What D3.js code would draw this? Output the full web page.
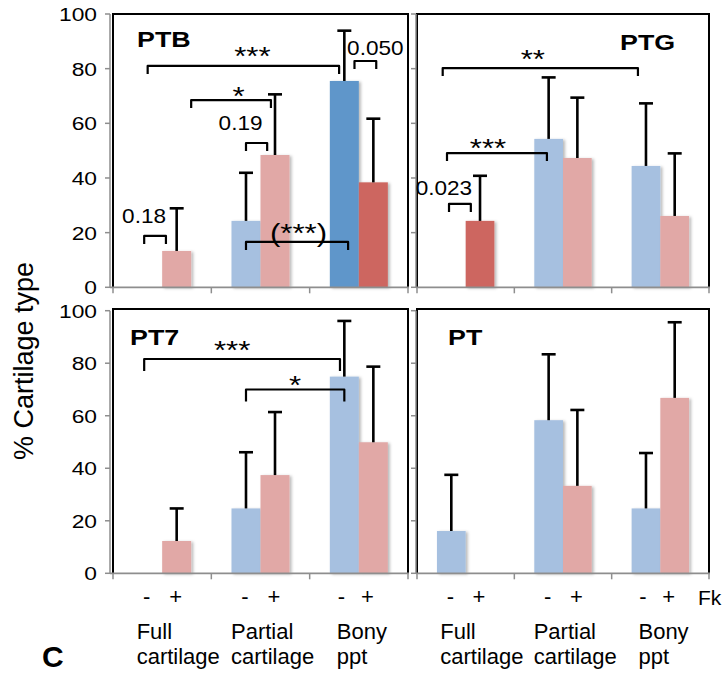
<!DOCTYPE html>
<html>
<head>
<meta charset="utf-8">
<script src="https://cdn.jsdelivr.net/npm/d3@7"></script>
<style>
  body { margin: 0; background: #fff; }
  svg { display: block; }
  text { font-family: "Liberation Sans", Arial, sans-serif; fill: #000; }
</style>
</head>
<body>
<svg id="chart" width="726" height="675"></svg>
<script>

// data

var categories = ["Full cartilage", "Partial cartilage", "Bony ppt"];
var categoryLines = [["Full", "cartilage"], ["Partial", "cartilage"], ["Bony", "ppt"]];
var fk = ["-", "+"];
var panelNames = ["PTB", "PTG", "PT7", "PT"];
var yTicks = [0, 20, 40, 60, 80, 100];

// mean % per category, [Fk -, Fk +]
var ptbMean = [[0, 13.3], [24.3, 48.4], [75.5, 38.4]];
var ptbSd   = [[0, 15.6], [17.6, 22.2], [18.4, 23.3]];
var ptgMean = [[0, 24.3], [54.3, 47.3], [44.4, 26.1]];
var ptgSd   = [[0, 16.5], [22.5, 22.1], [22.9, 22.9]];
var pt7Mean = [[0, 12.3], [24.7, 37.4], [74.9, 49.9]];
var pt7Sd   = [[0, 12.4], [21.4, 24.0], [21.2, 28.8]];
var ptMean  = [[16.1, 0], [58.3, 33.3], [24.7, 66.8]];
var ptSd    = [[21.4, 0], [25.1, 28.9], [21.1, 28.8]];

// bars in the darker shade: panel, category, fk
var darkBars = [["PTB", 2, 0], ["PTB", 2, 1], ["PTG", 0, 1]];

// significance brackets: ends are [category, fk, shift in bar widths], y in %
var brackets = [
  {panel: "PTB", from: [0, 0, 0],     to: [2, 0, -0.18], y: 81.0, label: "***"},
  {panel: "PTB", from: [0, 1, 0.5],   to: [1, 1, -0.14], y: 68.5, label: "*"},
  {panel: "PTB", from: [1, 0, 0],     to: [1, 1, -0.27], y: 52.8, label: "0.19"},
  {panel: "PTB", from: [0, 0, -0.12], to: [0, 1, -0.37], y: 18.8, label: "0.18"},
  {panel: "PTB", from: [1, 0, 0],     to: [2, 0, 0.13],  y: 16.6, label: "(***)"},
  {panel: "PTB", from: [2, 0, 0.35],  to: [2, 1, 0.1],   y: 82.8, label: "0.050"},
  {panel: "PTG", from: [0, 0, -0.3],  to: [2, 0, -0.28], y: 80.2, label: "**"},
  {panel: "PTG", from: [0, 0, -0.15], to: [1, 0, -0.06], y: 49.1, label: "***"},
  {panel: "PTG", from: [0, 0, -0.08], to: [0, 1, -0.32], y: 30.5, label: "0.023"},
  {panel: "PT7", from: [0, 0, -0.12], to: [2, 0, -0.15], y: 81.6, label: "***"},
  {panel: "PT7", from: [1, 0, 0],     to: [2, 0, 0],     y: 70.0, label: "*"}
];

// layout

// label offset from bracket centre / line (px)
var bracketLabelOffset = [
  [9, -1], [7.5, 5], [-16, -13], [-11, -13], [1.5, 0], [10, -6],
  [-7.5, 0], [-9, 4], [-16, -9],
  [-10, 0], [0, 5]
];
var colRange = [[113, 408], [417, 709]];
var axisX = [110, 416];
var rowRange = [[287.3, 14], [573.3, 310.7]];
var frameTop = [14, 309];
var titlePos = [[137, 47], [620, 50], [130, 345], [448, 345]];
var catLabelShift = [-11, -15, -7.5];

var lightColor = ["#a6c0e0", "#e1a8a6"];
var darkColor = ["#5f96ca", "#cd6660"];
var gray = "#8e8e8e";

var panels = [
  {name: panelNames[0], mean: ptbMean, sd: ptbSd, col: 0, row: 0},
  {name: panelNames[1], mean: ptgMean, sd: ptgSd, col: 1, row: 0},
  {name: panelNames[2], mean: pt7Mean, sd: pt7Sd, col: 0, row: 1},
  {name: panelNames[3], mean: ptMean,  sd: ptSd,  col: 1, row: 1}
];

var svg = d3.select("#chart");

var defs = svg.append("defs");
defs.append("filter")
    .attr("id", "shadow")
    .attr("x", "-20%").attr("y", "-20%").attr("width", "140%").attr("height", "140%")
  .append("feDropShadow")
    .attr("dx", 2).attr("dy", 1).attr("stdDeviation", 1.5)
    .attr("flood-color", "#000").attr("flood-opacity", 0.28);

// text stretched horizontally like the pasted Excel panels
function stext(g, x, y, str, size, sx, anchor, weight) {
  return g.append("text")
    .attr("transform", "translate(" + x + "," + y + ") scale(" + sx + ",1)")
    .attr("text-anchor", anchor || "start")
    .style("font-size", size + "px")
    .style("font-weight", weight || "normal")
    .text(str);
}

function isDark(name, i, j) {
  return darkBars.some(function(d) { return d[0] == name && d[1] == i && d[2] == j; });
}

panels.forEach(function(p, pi) {
  var g = svg.append("g");

  var x = d3.scaleBand().domain(d3.range(categories.length)).range(colRange[p.col]);
  var xs = d3.scaleBand().domain(d3.range(fk.length))
    .range([0, x.bandwidth()]).paddingInner(0).paddingOuter(0.695);
  var y = d3.scaleLinear().domain([0, 100]).range(rowRange[p.row]);
  var bw = xs.bandwidth();

  function barCenter(i, j) { return x(i) + xs(j) + bw / 2; }
  p.barCenter = barCenter;

  // flatten values
  var bars = [];
  p.mean.forEach(function(row, i) {
    row.forEach(function(v, j) {
      bars.push({cat: i, fk: j, value: v, sd: p.sd[i][j]});
    });
  });

  g.selectAll("rect.bar")
    .data(bars)
    .enter()
    .append("rect")
    .attr("class", "bar")
    .attr("x", function(d) { return x(d.cat) + xs(d.fk); })
    .attr("y", function(d) { return y(d.value); })
    .attr("width", bw)
    .attr("height", function(d) { return y(0) - y(d.value); })
    .attr("filter", function(d) { return d.value > 0 ? "url(#shadow)" : null; })
    .style("fill", function(d) {
      return isDark(p.name, d.cat, d.fk) ? darkColor[d.fk] : lightColor[d.fk];
    });

  // error bars (upper only)
  var err = g.selectAll("g.err")
    .data(bars.filter(function(d) { return d.sd > 0; }))
    .enter()
    .append("g")
    .attr("class", "err")
    .style("stroke", "#000")
    .style("stroke-width", 2.6);

  err.append("line")
    .attr("x1", function(d) { return barCenter(d.cat, d.fk); })
    .attr("x2", function(d) { return barCenter(d.cat, d.fk); })
    .attr("y1", function(d) { return y(d.value); })
    .attr("y2", function(d) { return y(d.value + d.sd); });

  err.append("line")
    .attr("x1", function(d) { return barCenter(d.cat, d.fk) - 7; })
    .attr("x2", function(d) { return barCenter(d.cat, d.fk) + 7; })
    .attr("y1", function(d) { return y(d.value + d.sd); })
    .attr("y2", function(d) { return y(d.value + d.sd); });

  // frame
  var left = colRange[p.col][0], right = colRange[p.col][1];
  g.append("path")
    .attr("d", "M" + left + "," + y(0) + "V" + frameTop[p.row] + "H" + right + "V" + y(0))
    .style("fill", "none")
    .style("stroke", "#000")
    .style("stroke-width", 2);

  // axes
  var ax = axisX[p.col];
  g.append("line")
    .attr("x1", ax).attr("x2", ax)
    .attr("y1", y(0)).attr("y2", y(100))
    .style("stroke", gray).style("stroke-width", 1.5);

  g.selectAll("line.ytick")
    .data(yTicks)
    .enter()
    .append("line")
    .attr("class", "ytick")
    .attr("x1", ax - 5).attr("x2", ax)
    .attr("y1", function(d) { return y(d); })
    .attr("y2", function(d) { return y(d); })
    .style("stroke", gray).style("stroke-width", 1.5);

  g.append("line")
    .attr("x1", ax).attr("x2", right + 1)
    .attr("y1", y(0)).attr("y2", y(0))
    .style("stroke", gray).style("stroke-width", 1.8);

  var bounds = d3.range(categories.length).map(function(i) { return x(i); })
    .concat([x(categories.length - 1) + x.bandwidth()]);
  g.selectAll("line.xtick")
    .data(bounds)
    .enter()
    .append("line")
    .attr("class", "xtick")
    .attr("x1", function(d) { return d; })
    .attr("x2", function(d) { return d; })
    .attr("y1", y(0)).attr("y2", y(0) + 6)
    .style("stroke", gray).style("stroke-width", 1.5);

  if (p.col == 0) {
    yTicks.forEach(function(t) {
      stext(g, 97, y(t) + 7, t, 19, 1.2, "end");
    });
  }

  // brackets
  brackets.forEach(function(b, bi) {
    if (b.panel != p.name) return;
    var x1 = barCenter(b.from[0], b.from[1]) + b.from[2] * bw;
    var x2 = barCenter(b.to[0], b.to[1]) + b.to[2] * bw;
    var yl = y(b.y);
    var drop = p.row == 0 ? 8 : 12;
    g.append("path")
      .attr("d", "M" + x1 + "," + (yl + drop) + "V" + yl + "H" + x2 + "V" + (yl + drop))
      .style("fill", "none")
      .style("stroke", "#000")
      .style("stroke-width", 2.2)
      .style("stroke-linejoin", "round");

    var off = bracketLabelOffset[bi];
    var cx = (x1 + x2) / 2 + off[0];
    if (/\*/.test(b.label)) {
      stext(g, cx, yl + off[1], b.label, 26, 1.2, "middle");
    } else {
      stext(g, cx, yl + off[1], b.label, 20, 1.13, "middle");
    }
  });

  stext(g, titlePos[pi][0], titlePos[pi][1], p.name, 22, 1.22, "start", "bold");
});

// x labels under the bottom panels
var bottom = panels.filter(function(p) { return p.row == 1; });
bottom.forEach(function(p) {
  var g = svg.append("g");
  categories.forEach(function(c, i) {
    fk.forEach(function(f, j) {
      g.append("text")
        .attr("x", p.barCenter(i, j) - (i == 2 ? 3 + j * 3 : 1))
        .attr("y", 604)
        .attr("text-anchor", "middle")
        .style("font-size", "22px")
        .text(f);
    });
    var lx = p.barCenter(i, 0) + catLabelShift[i];
    categoryLines[i].forEach(function(line, k) {
      g.append("text")
        .attr("x", lx)
        .attr("y", 639 + k * 25)
        .style("font-size", "22px")
        .text(line);
    });
  });
});

svg.append("text")
  .attr("x", 698)
  .attr("y", 605)
  .style("font-size", "21px")
  .text("Fk");

svg.append("text")
  .attr("transform", "translate(33,361) rotate(-90)")
  .attr("text-anchor", "middle")
  .style("font-size", "27px")
  .text("% Cartilage type");

// panel letter at the bottom edge
svg.append("text")
  .attr("x", 42)
  .attr("y", 667)
  .style("font-size", "30px")
  .style("font-weight", "bold")
  .text("C");

</script>
</body>
</html>
